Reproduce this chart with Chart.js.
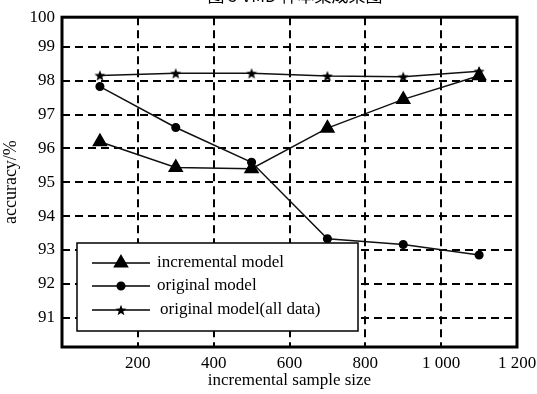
<!DOCTYPE html>
<html>
<head>
<meta charset="utf-8">
<script src="https://cdn.jsdelivr.net/npm/chart.js@4"></script>
<style>
  html, body { margin: 0; padding: 0; background: #fff; }
  #wrap { width: 537px; height: 394px; position: relative; }
</style>
</head>
<body>
<div id="wrap"><canvas id="chart"></canvas></div>
<script>
const sampleSizes = [100, 300, 500, 700, 900, 1100];
const incrementalModel = [96.2, 95.44, 95.4, 96.6, 97.45, 98.15];
const originalModel = [97.83, 96.62, 95.59, 93.33, 93.16, 92.85];
const originalModelAll = [98.16, 98.22, 98.22, 98.14, 98.12, 98.28];
const seriesNames = ['incremental model', 'original model', 'original model(all data)'];
const yTicks = [91, 92, 93, 94, 95, 96, 97, 98, 99];
const titleText = '图 5 VMD 样本集成果图';

const serif = '"Liberation Serif", "Times New Roman", serif';

// filled five point star for the third series
const starImg = (() => {
    const c = document.createElement('canvas');
    c.width = 12; c.height = 12;
    const g = c.getContext('2d');
    g.fillStyle = '#000';
    g.beginPath();
    for (let i = 0; i < 10; i++) {
        const r = i % 2 === 0 ? 5.8 : 2.4;
        const a = -Math.PI / 2 + i * Math.PI / 5;
        const px = 6 + r * Math.cos(a), py = 6.5 + r * Math.sin(a);
        i === 0 ? g.moveTo(px, py) : g.lineTo(px, py);
    }
    g.closePath();
    g.fill();
    return c;
})();

const toPoints = values => values.map((v, i) => ({x: sampleSizes[i], y: v}));

const frameAndLegend = {
    id: 'frameAndLegend',
    afterDatasetsDraw(chart) {
        const {ctx, chartArea: a} = chart;
        ctx.save();
        // plot frame
        ctx.strokeStyle = '#000';
        ctx.lineWidth = 3;
        ctx.setLineDash([]);
        ctx.strokeRect(a.left, a.top, a.right - a.left, a.bottom - a.top);

        // legend box inside the plot
        const bx = 77, by = 243, bw = 281, bh = 88;
        ctx.fillStyle = '#fff';
        ctx.fillRect(bx, by, bw, bh);
        ctx.lineWidth = 1.5;
        ctx.strokeRect(bx, by, bw, bh);
        const rows = [263, 286, 310];
        chart.data.datasets.forEach((ds, i) => {
            const y = rows[i];
            ctx.strokeStyle = '#000';
            ctx.fillStyle = '#000';
            ctx.lineWidth = 1.5;
            ctx.beginPath();
            ctx.moveTo(92, y);
            ctx.lineTo(150, y);
            ctx.stroke();
            Chart.helpers.drawPoint(ctx, {
                pointStyle: ds.pointStyle, radius: ds.pointRadius, rotation: 0, borderWidth: 1
            }, 121, y);
            ctx.font = '17px ' + serif;
            ctx.textBaseline = 'middle';
            ctx.textAlign = 'left';
            ctx.fillText(ds.label, i === 2 ? 160 : 157, y);
        });

        // chart title, cut off at the top edge
        ctx.fillStyle = '#000';
        ctx.font = '17px "Noto Sans CJK SC", ' + serif;
        ctx.textAlign = 'center';
        ctx.textBaseline = 'alphabetic';
        ctx.fillText(titleText, 295, 2);
        ctx.restore();
    }
};

const lineStyle = {
    borderColor: '#111',
    backgroundColor: '#000',
    pointBorderColor: '#000',
    pointBackgroundColor: '#000',
    borderWidth: 1.5,
    fill: false,
    tension: 0
};

new Chart(document.getElementById('chart').getContext('2d'), {
    type: 'line',
    data: {
        datasets: [
            {...lineStyle, label: seriesNames[0], data: toPoints(incrementalModel), pointStyle: 'triangle', pointRadius: 7.5},
            {...lineStyle, label: seriesNames[1], data: toPoints(originalModel), pointStyle: 'circle', pointRadius: 3.8},
            {...lineStyle, label: seriesNames[2], data: toPoints(originalModelAll), pointStyle: starImg, pointRadius: 6}
        ]
    },
    plugins: [frameAndLegend],
    options: {
        responsive: true,
        maintainAspectRatio: false,
        animation: false,
        layout: {padding: {top: 15, right: 20, left: 0, bottom: 0}},
        plugins: {
            legend: {display: false},
            tooltip: {enabled: false}
        },
        scales: {
            x: {
                type: 'linear',
                min: 0,
                max: 1200,
                afterFit: scale => {
                    scale.height = 47;
                    scale.paddingRight = 0;
                    scale.paddingLeft = 0;
                },
                ticks: {
                    stepSize: 200,
                    color: '#000',
                    padding: 8,
                    maxRotation: 0,
                    font: {family: serif, size: 17, lineHeight: 1},
                    callback: v => v === 0 ? '' : String(v).replace(/\B(?=(\d{3})+$)/, ' ')
                },
                grid: {
                    color: ctx => (ctx.tick.value === 0 || ctx.tick.value === 1200) ? 'rgba(0,0,0,0)' : '#000',
                    lineWidth: 2,
                    drawTicks: false
                },
                border: {display: false, dash: [8, 5]},
                title: {
                    display: true,
                    text: 'incremental sample size',
                    color: '#000',
                    font: {family: serif, size: 17, lineHeight: 1.1},
                    padding: {top: 0, bottom: 4}
                }
            },
            y: {
                min: 90.13,
                max: 99.88,
                afterFit: scale => { scale.width = 62; },
                afterBuildTicks: scale => {
                    scale.ticks = yTicks.map(v => ({value: v})).concat([{value: 99.88}]);
                },
                ticks: {
                    color: '#000',
                    padding: 7,
                    font: {family: serif, size: 17},
                    callback: v => v > 99.5 ? '100' : String(v)
                },
                grid: {
                    color: ctx => ctx.tick.value > 99.5 ? 'rgba(0,0,0,0)' : '#000',
                    lineWidth: 2,
                    drawTicks: false
                },
                border: {display: false, dash: [8, 5]},
                title: {
                    display: true,
                    text: 'accuracy/%',
                    color: '#000',
                    font: {family: serif, size: 18},
                    padding: {top: 0, bottom: 6}
                }
            }
        }
    }
});
</script>
</body>
</html>
